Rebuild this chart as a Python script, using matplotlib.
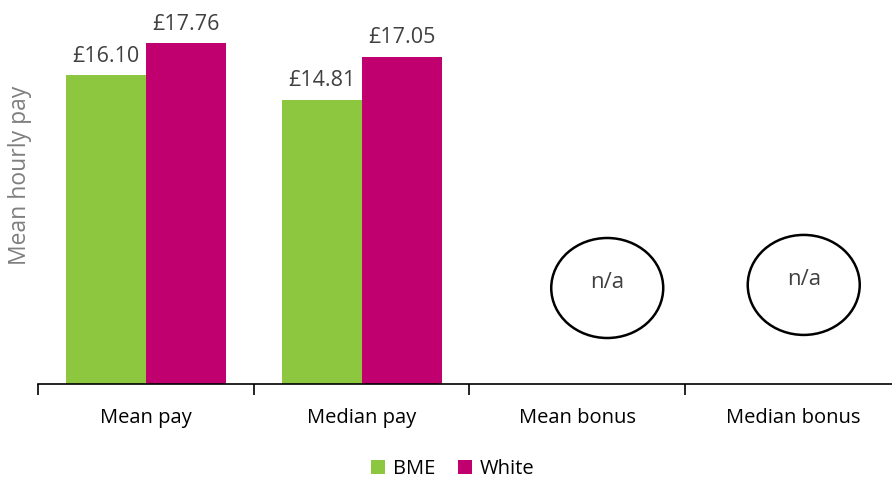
import matplotlib
matplotlib.use("Agg")
import matplotlib.pyplot as plt
from matplotlib.patches import Ellipse, Patch
import numpy as np

plt.rcParams['font.family'] = ['Open Sans', 'DejaVu Sans']

categories = ["Mean pay", "Median pay", "Mean bonus", "Median bonus"]
bme = [16.10, 14.81, None, None]
white = [17.76, 17.05, None, None]
series_names = ["BME", "White"]
colors = ["#8DC63F", "#C0006F"]
na_text = "n/a"

W, H = 892, 483
cat_px = 215.7
fig = plt.figure(figsize=(W / 100, H / 100), dpi=100)
ax = fig.add_axes([38 / W, 99 / H, 4 * cat_px / W, 384 / H])

x = np.arange(len(categories))
bw = 80 / cat_px

for vals, off, col in [(bme, -bw / 2, colors[0]), (white, bw / 2, colors[1])]:
    for i, v in enumerate(vals):
        if v is None:
            continue
        ax.bar(x[i] + off, v, width=bw, color=col, zorder=2)
        ax.annotate(f"£{v:.2f}", (x[i] + off, v), xytext=(0, 6),
                    textcoords="offset points", ha="center", va="bottom",
                    fontsize=15.5, color="#404040")

ax.set_xlim(-0.5, 3.5)
ax.set_ylim(0, 20)

# n/a ellipses for bonus categories
for i, dx, dy in [(2, 0.139, 5.0), (3, 0.05, 5.16)]:
    e = Ellipse((x[i] + dx, dy), width=112 / cat_px, height=100 / 19.2,
                fill=False, edgecolor="black", linewidth=1.8, zorder=3)
    ax.add_patch(e)
    ax.text(x[i] + dx, dy + 0.3, na_text, ha="center", va="center",
            fontsize=16, color="#404040", zorder=4)

for s in ["top", "right", "left"]:
    ax.spines[s].set_visible(False)
ax.spines["bottom"].set_color("black")
ax.spines["bottom"].set_linewidth(1.2)
ax.set_yticks([])

ax.set_xticks(np.arange(len(categories) + 1) - 0.5)
ax.set_xticklabels([])
ax.tick_params(axis="x", length=8, width=1.2, color="black", direction="out")
ax.set_xticks(x, minor=True)
ax.set_xticklabels(categories, minor=True, fontsize=14.5, color="black")
ax.tick_params(axis="x", which="minor", length=0, pad=17)

fig.text(20 / W, 1 - 175 / H, "Mean hourly pay", rotation=90, ha="center",
         va="center", fontsize=16.5, color="#7F7F7F")

handles = [Patch(facecolor=c, edgecolor="none") for c in colors]
fig.legend(handles, series_names, loc="center", bbox_to_anchor=(453 / W, 1 - 469 / H),
           ncol=2, frameon=False, fontsize=14.5, handlelength=0.7, handleheight=0.7,
           handletextpad=0.4, columnspacing=1.1)

fig.savefig("out.png", dpi=100)
